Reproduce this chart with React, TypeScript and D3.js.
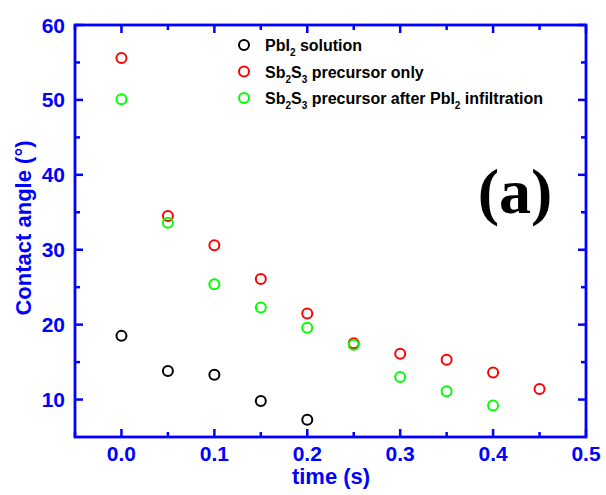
import * as d3 from "d3";
import React, {useEffect, useRef} from "react";

// PbI2 solution
const pbiTime = [0, 0.05, 0.1, 0.15, 0.2];
const pbiAngle = [18.5, 13.8, 13.3, 9.8, 7.3];

// Sb2S3 precursor only
const sbTime = [0, 0.05, 0.1, 0.15, 0.2, 0.25, 0.3, 0.35, 0.4, 0.45];
const sbAngle = [55.6, 34.5, 30.6, 26.1, 21.5, 17.5, 16.1, 15.3, 13.6, 11.4];

// Sb2S3 precursor after PbI2 infiltration
const sbAfterTime = [0, 0.05, 0.1, 0.15, 0.2, 0.25, 0.3, 0.35, 0.4];
const sbAfterAngle = [50.1, 33.6, 25.4, 22.3, 19.6, 17.3, 13.0, 11.1, 9.2];

const xTicks = [0, 0.1, 0.2, 0.3, 0.4, 0.5];
const xMinor = [-0.05, 0.05, 0.15, 0.25, 0.35, 0.45];
const yTicks = [10, 20, 30, 40, 50, 60];
const yMinor = [15, 25, 35, 45, 55];

const W = 606;
const H = 495;
const margin = {top: 25, right: 20, bottom: 58, left: 75};
const BLUE = "#0000ff";
const FONT = "Liberation Sans, Arial, sans-serif";

// части подписи: [текст, нижний индекс?]
const series = [
    {t: pbiTime, v: pbiAngle, color: "#000000", label: [["PbI", false], ["2", true], [" solution", false]]},
    {t: sbTime, v: sbAngle, color: "#ff0000", label: [["Sb", false], ["2", true], ["S", false], ["3", true], [" precursor only", false]]},
    {t: sbAfterTime, v: sbAfterAngle, color: "#00ff00", label: [["Sb", false], ["2", true], ["S", false], ["3", true], [" precursor after PbI", false], ["2", true], [" infiltration", false]]},
];

const App = () => {
    const svgRef = useRef(null);

    useEffect(() => {
        const width = W - margin.left - margin.right;
        const height = H - margin.top - margin.bottom;

        const xScale = d3.scaleLinear().domain([-0.05, 0.5]).range([0, width]);
        const yScale = d3.scaleLinear().domain([5, 60]).range([height, 0]);

        const svgEl = d3.select(svgRef.current);
        svgEl.selectAll("*").remove();

        const svg = svgEl.append("g")
            .attr("transform", `translate(${margin.left},${margin.top})`);

        // рамка
        svg.append("rect")
            .attr("width", width).attr("height", height)
            .attr("fill", "none").attr("stroke", BLUE).attr("stroke-width", 2.8);

        const tickG = svg.append("g").attr("stroke", BLUE).attr("stroke-width", 2.5);

        // ticks inward on all four sides
        xTicks.concat(xMinor).forEach(t => {
            const len = xTicks.includes(t) ? 8 : 5;
            const x = xScale(t);
            tickG.append("line").attr("x1", x).attr("x2", x).attr("y1", height).attr("y2", height - len);
            tickG.append("line").attr("x1", x).attr("x2", x).attr("y1", 0).attr("y2", len);
        });
        yTicks.concat(yMinor).forEach(t => {
            const len = yTicks.includes(t) ? 8 : 5;
            const y = yScale(t);
            tickG.append("line").attr("x1", 0).attr("x2", len).attr("y1", y).attr("y2", y);
            tickG.append("line").attr("x1", width).attr("x2", width - len).attr("y1", y).attr("y2", y);
        });

        svg.append("g").selectAll("text")
            .data(xTicks).enter().append("text")
            .attr("x", d => xScale(d)).attr("y", height + 24)
            .attr("text-anchor", "middle")
            .attr("font-family", FONT).attr("font-weight", "bold").attr("font-size", 21)
            .attr("fill", BLUE)
            .text(d => d3.format(".1f")(d));

        svg.append("g").selectAll("text")
            .data(yTicks).enter().append("text")
            .attr("x", -10).attr("y", d => yScale(d)).attr("dy", "0.36em")
            .attr("text-anchor", "end")
            .attr("font-family", FONT).attr("font-weight", "bold").attr("font-size", 21)
            .attr("fill", BLUE)
            .text(d => d);

        svg.append("text")
            .attr("x", 256).attr("y", height + 47)
            .attr("text-anchor", "middle")
            .attr("font-family", FONT).attr("font-weight", "bold").attr("font-size", 22)
            .attr("fill", BLUE)
            .text("time (s)");

        svg.append("text")
            .attr("transform", `translate(${-44},${203}) rotate(-90)`)
            .attr("text-anchor", "middle")
            .attr("font-family", FONT).attr("font-weight", "bold").attr("font-size", 22)
            .attr("fill", BLUE)
            .text("Contact angle (°)");

        // точки
        series.forEach(s => {
            svg.append("g").selectAll("circle")
                .data(s.t.map((t, i) => ({t, v: s.v[i]})))
                .enter().append("circle")
                .attr("cx", d => xScale(d.t)).attr("cy", d => yScale(d.v))
                .attr("r", 5).attr("fill", "none")
                .attr("stroke", s.color).attr("stroke-width", 2);
        });

        // легенда
        series.forEach((s, i) => {
            const ly = 20 + i * 26.5;
            svg.append("circle")
                .attr("cx", 169).attr("cy", ly).attr("r", 5)
                .attr("fill", "none").attr("stroke", s.color).attr("stroke-width", 2);
            const txt = svg.append("text")
                .attr("x", 190).attr("y", ly + 6)
                .attr("font-family", FONT).attr("font-weight", "bold").attr("font-size", 16)
                .attr("fill", "#000");
            let prevSub = false;
            s.label.forEach(([str, sub]) => {
                const ts = txt.append("tspan").text(str);
                if (sub) {
                    ts.attr("font-size", 10).attr("dy", 5);
                } else if (prevSub) {
                    ts.attr("dy", -5);
                }
                prevSub = sub;
            });
        });

        svg.append("text")
            .attr("x", 440).attr("y", 188)
            .attr("text-anchor", "middle")
            .attr("font-family", "Liberation Serif, Times New Roman, serif")
            .attr("font-weight", "bold").attr("font-size", 64)
            .attr("fill", "#000")
            .text("(a)");
    }, []);

    return (
        <>
            <svg ref={svgRef} width={W} height={H} style={{position: "absolute", left: 0, top: 0}}/>
        </>
    );
};

export default App;
